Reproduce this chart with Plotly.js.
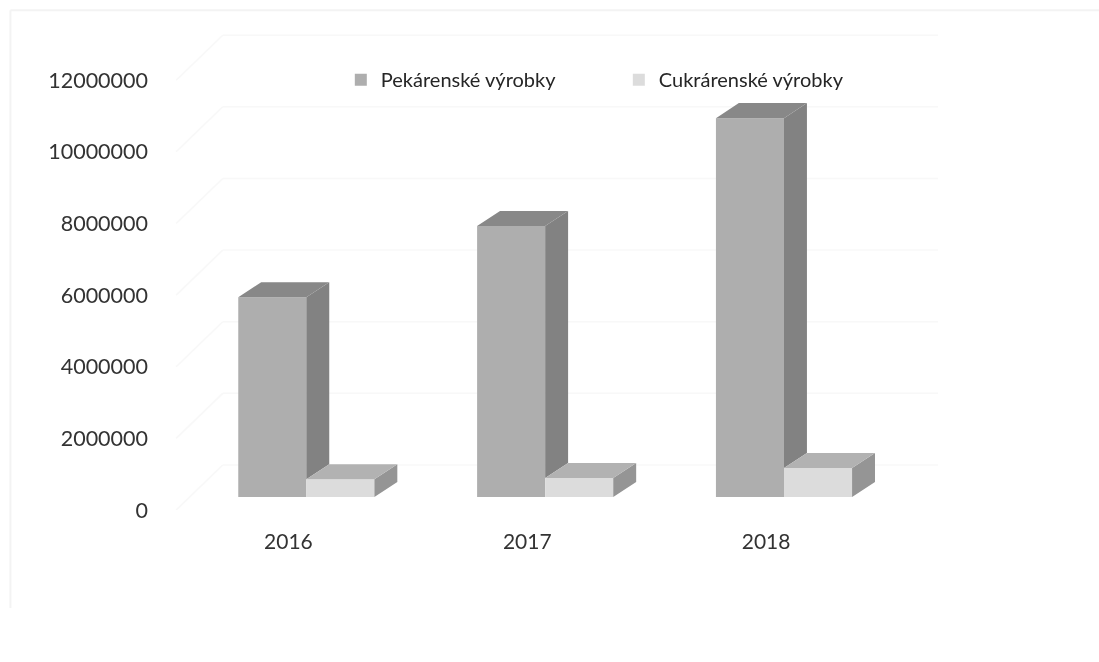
<!DOCTYPE html>
<html>
<head>
<meta charset="utf-8">
<script src="https://cdn.plot.ly/plotly-3.0.0.min.js"></script>
<style>
html,body{margin:0;padding:0;background:#fff;}
#chart{width:1099px;height:662px;filter:blur(0.45px);}
</style>
</head>
<body>
<div id="chart"></div>
<script>
var years = [2016, 2017, 2018];
var pekarenske = [5580000, 7570000, 10580000];
var cukrarenske = [500000, 530000, 810000];
var yTicks = [0, 2000000, 4000000, 6000000, 8000000, 10000000, 12000000];
var seriesNames = ['Pekárenské výrobky', 'Cukrárenské výrobky'];

var baseLevel = 360000;
var barWidth = 0.285;
var pekOffset = -0.21;
var cukOffset = 0.075;
var depthX = 0.096;
var depthY = 420000;
var wallX0 = 2015.53, wallDX = 0.195, wallEnd = 2018.72, wallDY = 1256000;

function poly(fn) {
  var xs = [], ys = [];
  years.forEach(function (yr, i) {
    fn(yr, i).forEach(function (p) { xs.push(p[0]); ys.push(p[1]); });
    xs.push(null); ys.push(null);
  });
  return {x: xs, y: ys};
}
function face(shape, color) {
  return {type: 'scatter', mode: 'lines', x: shape.x, y: shape.y, fill: 'toself', fillcolor: color,
          line: {width: 0, color: color}, showlegend: false, hoverinfo: 'skip'};
}
function pTop(i) { return baseLevel + pekarenske[i]; }
function cTop(i) { return baseLevel + cukrarenske[i]; }

var pekSide = poly(function (yr, i) {
  var r = yr + pekOffset + barWidth;
  return [[r, pTop(i)], [r + depthX, pTop(i) + depthY], [r + depthX, cTop(i) + depthY], [r, cTop(i)]];
});
var pekRoof = poly(function (yr, i) {
  var l = yr + pekOffset, r = l + barWidth;
  return [[l, pTop(i)], [l + depthX, pTop(i) + depthY], [r + depthX, pTop(i) + depthY], [r, pTop(i)]];
});
var cukSide = poly(function (yr, i) {
  var r = yr + cukOffset + barWidth;
  return [[r, cTop(i)], [r + depthX, cTop(i) + depthY], [r + depthX, baseLevel + depthY], [r, baseLevel]];
});
var cukRoof = poly(function (yr, i) {
  var l = yr + cukOffset, r = l + barWidth;
  return [[l, cTop(i)], [l + depthX, cTop(i) + depthY], [r + depthX, cTop(i) + depthY], [r, cTop(i)]];
});

var traces = [
  {type: 'bar', name: seriesNames[0], x: years, y: pekarenske, base: baseLevel, width: barWidth, offset: pekOffset,
   marker: {color: '#aeaeae'}},
  {type: 'bar', name: seriesNames[1], x: years, y: cukrarenske, base: baseLevel, width: barWidth, offset: cukOffset,
   marker: {color: '#dcdcdc'}},
  face(pekSide, '#828282'),
  face(pekRoof, '#888888'),
  face(cukSide, '#959595'),
  face(cukRoof, '#b2b2b2')
];

var wallColor = '#f8f8f8';
var shapes = [];
yTicks.forEach(function (t) {
  shapes.push({type: 'line', layer: 'below', xref: 'x', yref: 'y', x0: wallX0, y0: t, x1: wallX0 + wallDX, y1: t + wallDY,
               line: {color: wallColor, width: 1.5}});
  shapes.push({type: 'line', layer: 'below', xref: 'x', yref: 'y', x0: wallX0 + wallDX, y0: t + wallDY, x1: wallEnd, y1: t + wallDY,
               line: {color: wallColor, width: 1.5}});
});
// faint scan frame of the page
shapes.push({type: 'line', layer: 'below', xref: 'paper', yref: 'paper', x0: -0.203, x1: 1.2, y0: 1.02, y1: 1.02, line: {color: '#f3f3f3', width: 2}});
shapes.push({type: 'line', layer: 'below', xref: 'paper', yref: 'paper', x0: -0.203, x1: -0.203, y0: 1.02, y1: -0.2, line: {color: '#f3f3f3', width: 2}});

var layout = {
  width: 1099, height: 662,
  margin: {l: 168.5, r: 149, t: 20, b: 152},
  paper_bgcolor: '#ffffff', plot_bgcolor: 'rgba(0,0,0,0)',
  barmode: 'overlay',
  font: {family: 'Lato, sans-serif', color: '#3c3c3c'},
  xaxis: {range: [2015.5, 2018.77], tickmode: 'array', tickvals: years, ticktext: years.map(String),
          showgrid: false, zeroline: false, showline: false, ticks: '',
          ticklabelstandoff: 17, tickfont: {size: 21, family: 'Lato, sans-serif', color: '#333333'}},
  yaxis: {range: [0, 13680000], tickmode: 'array', tickvals: yTicks, ticktext: yTicks.map(String),
          showgrid: false, zeroline: false, showline: false, ticks: '',
          ticklabelstandoff: 20, tickfont: {size: 21.5, family: 'Lato, sans-serif', color: '#333333'}},
  legend: {orientation: 'h', x: 0.22, xanchor: 'left', y: 0.918, yanchor: 'top',
           bgcolor: 'rgba(0,0,0,0)', entrywidth: 233, entrywidthmode: 'pixels',
           font: {size: 20, family: 'Lato, sans-serif', color: '#262626'}},
  shapes: shapes
};
Plotly.newPlot('chart', traces, layout, {displayModeBar: false, staticPlot: true});
</script>
</body>
</html>
